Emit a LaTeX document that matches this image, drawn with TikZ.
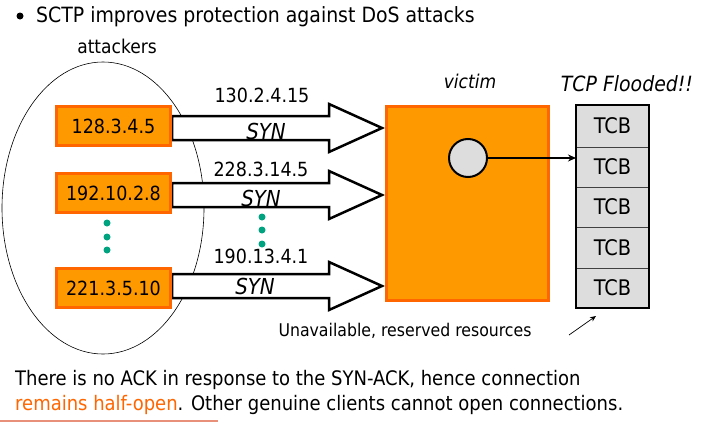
\documentclass[tikz,border=0pt]{standalone}
\usepackage{fontspec}
\setmainfont{DejaVu Sans Condensed}
\usetikzlibrary{arrows.meta, positioning, calc, fit}
\definecolor{boxorange}{RGB}{255,153,0}
\definecolor{boxedge}{RGB}{255,102,0}
\definecolor{cellgray}{RGB}{221,221,221}
\definecolor{dotteal}{RGB}{0,163,128}
\definecolor{halfopen}{RGB}{255,102,0}
\definecolor{rulecolor}{RGB}{233,144,122}
\tikzset{
    hostbox/.style={
        rectangle,
        draw=boxedge,
        fill=boxorange,
        line width=3pt,
        minimum width=114pt,
        minimum height=39pt,
        inner sep=0pt,
        font=\fontsize{19.5}{22}\selectfont
    },
    synarrow/.style={
        draw=black,
        fill=white,
        line width=2.5pt,
        line join=miter
    },
    iplabel/.style={
        anchor=base,
        inner sep=0pt,
        font=\fontsize{19.5}{21}\selectfont
    },
    synlabel/.style={
        anchor=base,
        inner sep=0pt,
        font=\fontsize{22}{24}\selectfont\itshape
    },
    tcbcell/.style={
        rectangle,
        draw=black!75,
        fill=cellgray,
        line width=1pt,
        minimum width=73pt,
        inner sep=0pt,
        outer sep=0pt,
        font=\fontsize{21.5}{23}\selectfont
    }
}

\begin{document}
\begin{tikzpicture}[x=1pt, y=-1pt]
    \useasboundingbox (0,0) rectangle (701,423);

    % Title
    \fill (20,16) circle (3.5);
    \node[anchor=base west, inner sep=0pt, font=\fontsize{21}{24}\selectfont] (title) at (36,22)
        {SCTP improves protection against DoS attacks};

    % Attackers group
    \node[anchor=base, inner sep=0pt, font=\fontsize{19}{21}\selectfont] (attackers) at (117,53) {attackers};
    \draw[line width=0.6pt] (103,208) ellipse (101 and 146);

    % Victim
    \node[hostbox, minimum width=162pt, minimum height=194pt] (victim) at (467.5,203.5) {};
    \node[anchor=base, inner sep=0pt, font=\fontsize{19}{21}\selectfont\itshape] (victimlabel) at (470,88) {victim};

    % Block arrows (drawn before the hosts)
    \coordinate (h1) at (172,128);
    \coordinate (h2) at (172,195);
    \coordinate (h3) at (172,286);
    \foreach \h in {h1,h2,h3}
        \draw[synarrow] (\h) ++(0,-12) -- ++(157,0) -- ++(0,-12)
            -- ($(\h -| victim.west)+(-3,0)$) -- ++(-53,24) -- ++(0,-12) -- ++(-157,0) -- cycle;

    % Attacking hosts
    \node[hostbox] (a1) at (113.5,126) {128.3.4.5};
    \node[hostbox] (a2) at (113.5,193) {192.10.2.8};
    \node[hostbox] (a3) at (113.5,288) {221.3.5.10};

    % Spoofed source addresses
    \node[iplabel] (ip1) at (262,102) {130.2.4.15};
    \node[iplabel] (ip2) at (261,176) {228.3.14.5};
    \node[iplabel] (ip3) at (261,263) {190.13.4.1};
    \node[synlabel] (syn1) at (266,139) {SYN};
    \node[synlabel] (syn2) at (261,206) {SYN};
    \node[synlabel] (syn3) at (255,294) {SYN};

    % Dots
    \foreach \y in {223,237,250}
        \fill[dotteal] (107,\y) circle (3.5);
    \foreach \y in {217,230,244}
        \fill[dotteal] (262,\y) circle (3.5);

    % TCB stack
    \node[tcbcell, minimum height=42pt] (tcb1) at (612.5,126) {TCB};
    \node[tcbcell, minimum height=40pt, below=0pt of tcb1] (tcb2) {TCB};
    \node[tcbcell, minimum height=40pt, below=0pt of tcb2] (tcb3) {TCB};
    \node[tcbcell, minimum height=41pt, below=0pt of tcb3] (tcb4) {TCB};
    \node[tcbcell, minimum height=40pt, below=0pt of tcb4] (tcb5) {TCB};
    \node[draw, line width=2.5pt, inner sep=0pt, fit=(tcb1)(tcb5)] (stack) {};
    \node[anchor=base, inner sep=0pt, font=\fontsize{21}{23}\selectfont\itshape] (flooded) at (627,91) {TCP Flooded!!};

    % Half-open socket
    \node[circle, draw, fill=cellgray, line width=2pt, minimum size=38pt, inner sep=0pt] (sock) at (468,158) {};
    \draw[-{Stealth[length=8pt,width=7pt]}, line width=1.3pt] (sock.east) -- (sock.east -| tcb2.west);

    % Reserved resources
    \node[anchor=base, inner sep=0pt, font=\fontsize{17.5}{19}\selectfont] (reserved) at (405,336)
        {Unavailable, reserved resources};
    \coordinate (ptrstart) at (569,335);
    \coordinate (ptrend) at (596,316);
    \draw[-{Stealth[length=6pt,width=5pt]}, line width=0.7pt] (ptrstart) -- (ptrend);

    % Note
    \node[anchor=base west, inner sep=0pt, font=\fontsize{20}{22}\selectfont] (note1) at (15,385)
        {There is no ACK in response to the SYN-ACK, hence connection};
    \node[anchor=base west, inner sep=0pt, font=\fontsize{20}{22}\selectfont] (note2) at (15,410)
        {\textcolor{halfopen}{remains half-open}. Other genuine clients cannot open connections.};
    \draw[rulecolor, line width=2pt] (0,421) -- (218,421);
\end{tikzpicture}
\end{document}
